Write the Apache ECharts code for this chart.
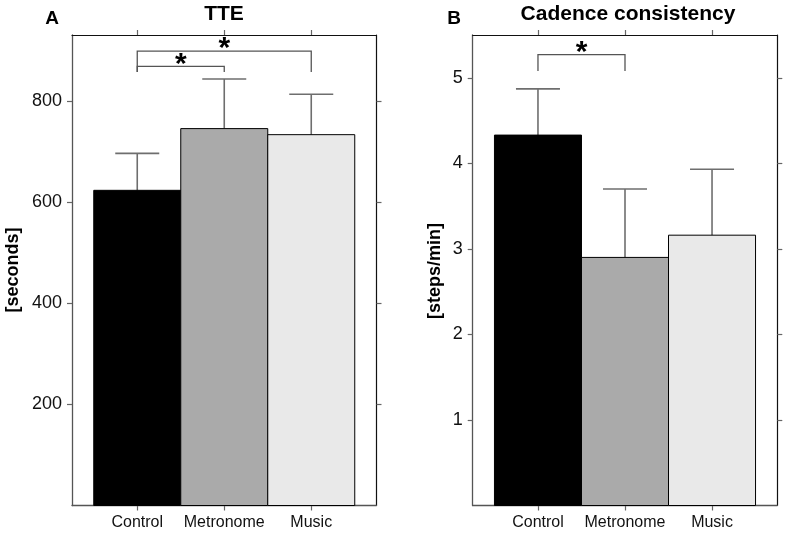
<!DOCTYPE html>
<html>
<head>
<meta charset="utf-8">
<script src="https://cdn.jsdelivr.net/npm/echarts@6/dist/echarts.min.js"></script>
<style>
html,body{margin:0;padding:0;background:#fff;}
#chart{width:787px;height:535px;}
</style>
</head>
<body>
<div id="chart"></div>
<script>
// ---- data ----
var categories = ['Control', 'Metronome', 'Music'];
var catPos = [1, 2, 3];
var tteMean = [623, 745, 733];
var tteSD = [73, 98, 80];
var cadMean = [4.33, 2.90, 3.16];
var cadSD = [0.54, 0.80, 0.77];
var tteTicks = [200, 400, 600, 800];
var cadTicks = [1, 2, 3, 4, 5];
// significance brackets: [fromCategoryIndex, toCategoryIndex, topValue, bottomValue]
var tteSig = [[0, 1, 868, 857], [0, 2, 898, 857]];
var cadSig = [[0, 1, 5.27, 5.08]];

// ---- style ----
var barColors = ['#000000', '#aaaaaa', '#e9e9e9'];
var FONT = '"Liberation Sans", Arial, Helvetica, sans-serif';

var chart = echarts.init(document.getElementById('chart'), null, {renderer: 'canvas'});

function barData(means) {
  return means.map(function (m, i) { return [catPos[i], m, i]; });
}
function errData(means, sds) {
  return means.map(function (m, i) { return [catPos[i], m, m + sds[i]]; });
}
function sigData(sig) {
  return sig.map(function (s) { return [catPos[s[0]], catPos[s[1]], s[2], s[3]]; });
}

function renderBar(params, api) {
  var x = api.value(0), y = api.value(1), idx = api.value(2);
  var p0 = api.coord([x, 0]);
  var p1 = api.coord([x, y]);
  var w = api.size([1, 0])[0];
  return {
    type: 'rect',
    shape: {x: p1[0] - w / 2, y: p1[1], width: w, height: p0[1] - p1[1]},
    style: {fill: barColors[idx], stroke: '#000', lineWidth: 1}
  };
}
function renderErr(params, api) {
  var x = api.value(0);
  var pb = api.coord([x, api.value(1)]);
  var pt = api.coord([x, api.value(2)]);
  var hw = 22;
  var st = {stroke: '#6e6e6e', lineWidth: 1.6, fill: null};
  return {
    type: 'group',
    children: [
      {type: 'line', shape: {x1: pb[0], y1: pb[1], x2: pt[0], y2: pt[1]}, style: st},
      {type: 'line', shape: {x1: pt[0] - hw, y1: pt[1], x2: pt[0] + hw, y2: pt[1]}, style: st}
    ]
  };
}
function renderSig(params, api) {
  var a = api.coord([api.value(0), api.value(2)]);
  var b = api.coord([api.value(1), api.value(2)]);
  var ab = api.coord([api.value(0), api.value(3)]);
  var bb = api.coord([api.value(1), api.value(3)]);
  return {
    type: 'group',
    children: [
      {type: 'polyline', shape: {points: [[ab[0], ab[1]], [a[0], a[1]], [b[0], b[1]], [bb[0], bb[1]]]},
       style: {stroke: '#555', lineWidth: 1.3, fill: null}},
      {type: 'text', x: (a[0] + b[0]) / 2, y: a[1] - 2,
       style: {text: '*', font: 'bold 30px ' + FONT, fill: '#000', align: 'center', verticalAlign: 'middle'}}
    ]
  };
}

function xAxes(gridIndex) {
  var common = {
    type: 'value', gridIndex: gridIndex, min: 0.25, max: 3.75,
    splitLine: {show: false}
  };
  return [
    Object.assign({}, common, {
      position: 'bottom',
      axisLine: {show: true, onZero: false, lineStyle: {color: '#555', width: 1.3}},
      axisTick: {show: true, length: 5, customValues: catPos, lineStyle: {color: '#666', width: 1.2}},
      axisLabel: {show: true, customValues: catPos, margin: 9, fontFamily: FONT, fontSize: 16, color: '#111',
        formatter: function (v) { return categories[Math.round(v) - 1] || ''; }}
    }),
    Object.assign({}, common, {
      position: 'top',
      axisLine: {show: true, onZero: false, lineStyle: {color: '#111', width: 1.2}},
      axisTick: {show: true, length: 5, customValues: catPos, lineStyle: {color: '#666', width: 1.2}},
      axisLabel: {show: false}
    })
  ];
}
function yAxes(gridIndex, max, ticks) {
  var common = {
    type: 'value', gridIndex: gridIndex, min: 0, max: max,
    splitLine: {show: false}
  };
  return [
    Object.assign({}, common, {
      position: 'left',
      axisLine: {show: true, onZero: false, lineStyle: {color: '#555', width: 1.3}},
      axisTick: {show: true, length: 5, customValues: ticks, lineStyle: {color: '#666', width: 1.2}},
      axisLabel: {show: true, customValues: ticks, margin: 10, fontFamily: FONT, fontSize: 18, color: '#111'}
    }),
    Object.assign({}, common, {
      position: 'right',
      axisLine: {show: true, onZero: false, lineStyle: {color: '#111', width: 1.2}},
      axisTick: {show: true, length: 5, customValues: ticks, lineStyle: {color: '#666', width: 1.2}},
      axisLabel: {show: false}
    })
  ];
}

var option = {
  animation: false,
  backgroundColor: '#fff',
  grid: [
    {left: 72, top: 35, width: 304.5, height: 470.5},
    {left: 472.7, top: 35, width: 304.6, height: 470.5}
  ],
  xAxis: xAxes(0).concat(xAxes(1)),
  yAxis: yAxes(0, 930, tteTicks).concat(yAxes(1, 5.5, cadTicks)),
  series: [
    {type: 'custom', xAxisIndex: 0, yAxisIndex: 0, data: barData(tteMean), renderItem: renderBar, z: 2},
    {type: 'custom', xAxisIndex: 0, yAxisIndex: 0, data: errData(tteMean, tteSD), renderItem: renderErr, z: 1},
    {type: 'custom', xAxisIndex: 0, yAxisIndex: 0, data: sigData(tteSig), renderItem: renderSig, z: 3},
    {type: 'custom', xAxisIndex: 2, yAxisIndex: 2, data: barData(cadMean), renderItem: renderBar, z: 2},
    {type: 'custom', xAxisIndex: 2, yAxisIndex: 2, data: errData(cadMean, cadSD), renderItem: renderErr, z: 1},
    {type: 'custom', xAxisIndex: 2, yAxisIndex: 2, data: sigData(cadSig), renderItem: renderSig, z: 3}
  ],
  graphic: [
    {type: 'text', x: 224, y: 14, style: {text: 'TTE', font: 'bold 21px ' + FONT, fill: '#000', align: 'center', verticalAlign: 'middle'}},
    {type: 'text', x: 628, y: 14, style: {text: 'Cadence consistency', font: 'bold 21px ' + FONT, fill: '#000', align: 'center', verticalAlign: 'middle'}},
    {type: 'text', x: 52, y: 19, style: {text: 'A', font: 'bold 19px ' + FONT, fill: '#000', align: 'center', verticalAlign: 'middle'}},
    {type: 'text', x: 454, y: 19, style: {text: 'B', font: 'bold 19px ' + FONT, fill: '#000', align: 'center', verticalAlign: 'middle'}},
    {type: 'text', x: 13, y: 270, rotation: Math.PI / 2, style: {text: '[seconds]', font: 'bold 18px ' + FONT, fill: '#000', align: 'center', verticalAlign: 'middle'}},
    {type: 'text', x: 435, y: 271, rotation: Math.PI / 2, style: {text: '[steps/min]', font: 'bold 18px ' + FONT, fill: '#000', align: 'center', verticalAlign: 'middle'}}
  ]
};
chart.setOption(option);
</script>
</body>
</html>
